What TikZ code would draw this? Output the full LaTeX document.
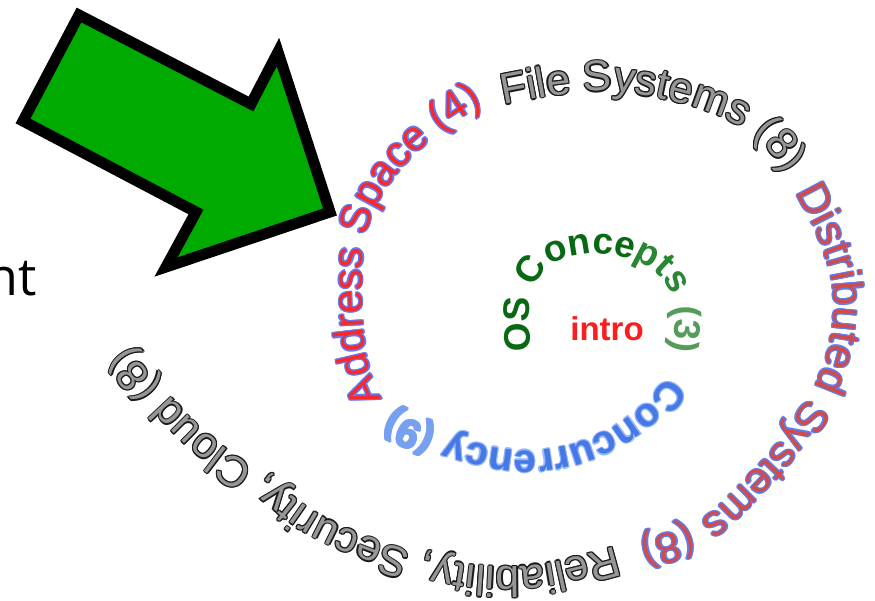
\documentclass[tikz,border=0pt]{standalone}
\usepackage{fontspec}
\setmainfont{Liberation Sans}
\newfontfamily\lightsans{Open Sans}
\usetikzlibrary{decorations.text}

\definecolor{arrowgreen}{RGB}{0,170,0}
\definecolor{osgreen}{RGB}{8,105,18}
\definecolor{osgreenmid}{RGB}{40,135,50}
\definecolor{osgreenlight}{RGB}{85,155,90}
\definecolor{introred}{RGB}{250,30,30}
\definecolor{concblue}{RGB}{70,120,230}
\definecolor{conchalo}{RGB}{150,185,250}
\definecolor{conclight}{RGB}{120,160,240}
\definecolor{addrred}{RGB}{250,40,40}
\definecolor{addrhalo}{RGB}{100,120,245}
\definecolor{distred}{RGB}{210,75,75}
\definecolor{disthalo}{RGB}{95,125,235}
\definecolor{greyfill}{RGB}{150,150,150}
\definecolor{greyhalo}{RGB}{25,25,25}

\tikzset{spiralpath/.style={rounded corners=7pt}}

% #1 baseline points, #2 font size, #3 weight, #4 fill colour,
% #5 halo colour, #6 halo radius, #7 phrase
\newcommand\spiralphrase[7]{%
  \ifdim#6pt>0pt
    \foreach \ang in {0,45,...,315}{%
      \path[spiralpath, shift={(\ang:#6)}, decorate,
        decoration={text along path, text align=center,
          text={|\fontsize{#2}{#2}\selectfont#3\color{#5}|#7}}]
        #1;
    }%
  \fi
  \path[spiralpath, decorate,
    decoration={text along path, text align=center,
      text={|\fontsize{#2}{#2}\selectfont#3\color{#4}|#7}}]
    #1;
}

\begin{document}
\begin{tikzpicture}[x=0.5pt,y=-0.5pt]
\fill[white] (0,0) rectangle (875,601);
\useasboundingbox (0,0) rectangle (875,601);

% word cut off at the left edge
\node[anchor=base east, inner sep=0pt, font=\lightsans\fontsize{26}{26}\selectfont] (cutword) at (37,295) {nt};

% big green arrow
\draw[line width=5.5pt, line join=miter, fill=arrowgreen, draw=black]
  (79,15) -- (251,104) -- (278,52) -- (330,212) -- (166,267) -- (196,212) -- (23,121) -- cycle;

% centre label
\node[anchor=base, inner sep=0pt, text=introred, font=\bfseries\fontsize{16.5}{16.5}\selectfont] (intro) at (607,340) {intro};

% spiral of topics, from the centre outwards
\spiralphrase{(530,347) -- (529,300) -- (545,266) -- (580,253) -- (615,254) -- (650,266) -- (672,290) -- (676,320) -- (672,347)}
  {18.5}{\bfseries}{osgreen}{white}{0}{OS Conce|+\color{osgreenmid}|pts |+\color{osgreenlight}|(3)}

\spiralphrase{(668,376) -- (645,405) -- (610,430) -- (570,446) -- (530,452) -- (490,447) -- (455,438) -- (420,425) -- (392,410)}
  {20}{\bfseries}{concblue}{conchalo}{1.2}{Concurrency |+\color{conclight}|(9)}

\spiralphrase{(382,400) -- (370,372) -- (364,340) -- (362,300) -- (362,262) -- (366,232) -- (376,205) -- (392,180) -- (412,157) -- (435,137) -- (458,120) -- (484,104)}
  {21}{\mdseries}{addrred}{addrhalo}{1.4}{Address Space (4)}

\spiralphrase{(508,104) -- (555,95) -- (610,90) -- (660,98) -- (705,110) -- (737,124) -- (762,142) -- (785,170)}
  {21.5}{\mdseries}{greyfill}{greyhalo}{1.2}{File Systems (8)}

\spiralphrase{(798,197) -- (818,235) -- (832,275) -- (835,310) -- (829,350) -- (815,388) -- (795,416) -- (775,448) -- (740,485) -- (707,518) -- (672,532) -- (644,540)}
  {21.5}{\mdseries}{distred}{disthalo}{1.3}{Distributed Systems (8)}

\spiralphrase{(613,547) -- (580,556) -- (545,564) -- (510,567) -- (470,565) -- (430,557) -- (395,547) -- (350,530) -- (310,510) -- (270,478) -- (233,454) -- (200,428) -- (172,398) -- (150,375) -- (130,348)}
  {21.5}{\mdseries}{greyfill}{greyhalo}{1.2}{Reliability, Security, Cloud (8)}
\end{tikzpicture}
\end{document}
